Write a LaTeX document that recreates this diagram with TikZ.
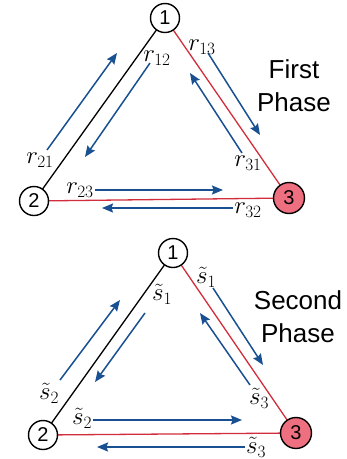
\documentclass[tikz,border=0pt]{standalone}
\usepackage{amsmath}
\usepackage{amssymb}
\usepackage{fontspec}
\setsansfont{Liberation Sans}
\usepackage{tikz}
\usetikzlibrary{shapes,arrows.meta}
\definecolor{flowblue}{RGB}{25,80,145}
\definecolor{linkred}{RGB}{210,45,60}
\definecolor{relaypink}{RGB}{238,112,128}
\newcommand{\usernode}[3] {\node at (#1) (#2) [circle, draw, line width=1.4pt, fill=white, minimum size=29pt, inner sep=0pt, font=\sffamily\fontsize{20}{20}\selectfont] {#3};}
\newcommand{\relaynode}[3] {\node at (#1) (#2) [circle, draw, line width=1.4pt, fill=relaypink, minimum size=31pt, inner sep=0pt, font=\sffamily\fontsize{20}{20}\selectfont] {#3};}
\newcommand{\flowarrow}[3] {\coordinate (#1s) at (#2); \coordinate (#1e) at (#3); \draw [-{Stealth[length=11pt, width=9pt, inset=1.5pt]}, flowblue, line width=1.5pt] (#1s) -- (#1e);}
\newcommand{\ratelabel}[3] {\node at (#1) (#2) [font=\fontsize{26}{26}\selectfont] {$#3$};}
\newcommand{\phaselabel}[3] {\node at (#1) (#2) [align=center, font=\sffamily\fontsize{26}{33}\selectfont] {#3};}

\begin{document}
\begin{tikzpicture}[x=1pt, y=-1pt]
\useasboundingbox (0,0) rectangle (347,459);
% first phase
\coordinate (A1) at (165,18);
\coordinate (A2) at (34,201);
\coordinate (A3) at (289,198);
\draw [line width=1.3pt] (A1) -- (A2);
\draw [linkred, line width=1.3pt] (A1) -- (A3);
\draw [linkred, line width=1.3pt] (A2) -- (A3);
\usernode{A1}{a1}{1}
\usernode{A2}{a2}{2}
\relaynode{A3}{a3}{3}
\flowarrow{fa21}{47,150}{117,53}
\flowarrow{fa12}{150,63}{85,157}
\flowarrow{fa13}{208,53}{260,135}
\flowarrow{fa31}{242,153}{190,73}
\flowarrow{fa23}{95,190}{223,190}
\flowarrow{fa32}{233,208}{102,208}
\ratelabel{157,58}{r12}{r_{12}}
\ratelabel{202,47}{r13}{r_{13}}
\ratelabel{40,160}{r21}{r_{21}}
\ratelabel{248,163}{r31}{r_{31}}
\ratelabel{80,190}{r23}{r_{23}}
\ratelabel{248,210}{r32}{r_{32}}
\phaselabel{294,86}{first}{First\\Phase}
% second phase
\coordinate (B1) at (173,253);
\coordinate (B2) at (43,435);
\coordinate (B3) at (296,433);
\draw [line width=1.3pt] (B1) -- (B2);
\draw [linkred, line width=1.3pt] (B1) -- (B3);
\draw [linkred, line width=1.3pt] (B2) -- (B3);
\usernode{B1}{b1}{1}
\usernode{B2}{b2}{2}
\relaynode{B3}{b3}{3}
\flowarrow{fb21}{60,380}{120,300}
\flowarrow{fb12}{145,313}{95,382}
\flowarrow{fb13}{213,288}{263,365}
\flowarrow{fb31}{250,385}{200,313}
\flowarrow{fb23}{93,420}{242,420}
\flowarrow{fb32}{245,447}{97,447}
\ratelabel{162,294}{s1l}{\tilde{s}_1}
\ratelabel{206,277}{s1r}{\tilde{s}_1}
\ratelabel{49,393}{s2l}{\tilde{s}_2}
\ratelabel{259,398}{s3r}{\tilde{s}_3}
\ratelabel{82,418}{s2b}{\tilde{s}_2}
\ratelabel{256,447}{s3b}{\tilde{s}_3}
\phaselabel{298,317}{second}{Second\\Phase}
\end{tikzpicture}
\end{document}
